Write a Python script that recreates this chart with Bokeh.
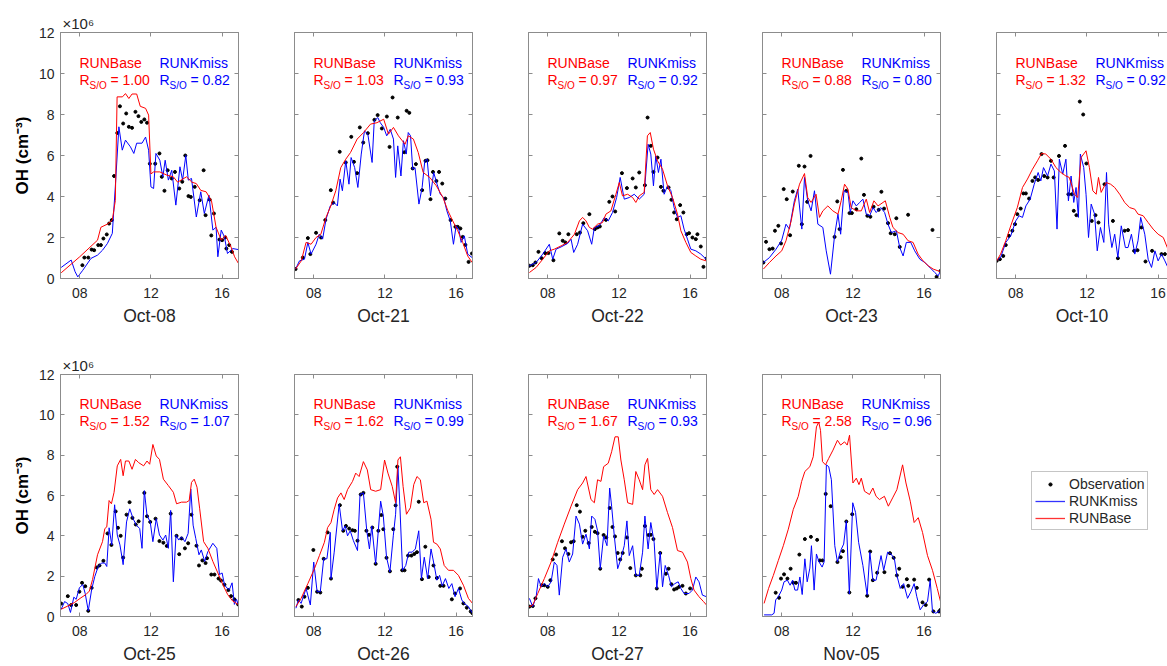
from bokeh.plotting import figure
from bokeh.models import FixedTicker, LinearAxis, Range1d, Legend, LegendItem, Label
from bokeh.layouts import row, column
from bokeh.embed import file_html
from bokeh.resources import INLINE

# ---------------- data (OH in units of 1e6 cm^-3, time in local hours) ----------------
DATES = ["Oct-08", "Oct-21", "Oct-22", "Oct-23", "Oct-10", "Oct-25", "Oct-26", "Oct-27", "Nov-05"]
R_BASE = ["1.00", "1.03", "0.97", "0.88", "1.32", "1.52", "1.62", "1.67", "2.58"]
R_KMISS = ["0.82", "0.93", "0.92", "0.80", "0.92", "1.07", "0.99", "0.93", "0.96"]
X_TICKS = [8, 12, 16]
X_TICK_LABELS = ["08", "12", "16"]
Y_TICKS = [0, 2, 4, 6, 8, 10, 12]
LEGEND_LABELS = ["Observation", "RUNKmiss", "RUNBase"]

OCT08_OBS = [(8.15,0.65),(8.26,1.02),(8.48,1.02),(8.67,1.41),(8.81,1.38),(9.04,1.63),(9.19,1.63),(9.33,1.95),(9.52,2.15),(9.65,2.68),(9.8,2.85),(9.93,5.0),(10.11,7.1),(10.26,8.4),(10.44,7.56),(10.61,8.05),(10.76,7.4),(10.94,7.35),(11.13,8.13),(11.3,7.92),(11.46,7.64),(11.63,7.76),(11.78,7.6),(11.94,5.6),(12.24,5.6),(12.48,6.1),(12.61,4.96),(12.76,4.28),(12.94,5.28),(13.17,4.88),(13.35,5.2),(13.59,4.39),(13.76,4.72),(13.93,6.0),(14.11,4.02),(14.24,3.98),(14.46,4.47),(14.74,3.82),(14.96,5.28),(15.07,3.09),(15.3,3.85),(15.39,2.1),(15.54,3.17),(15.85,1.9),(16.0,1.87),(16.17,2.0),(16.24,1.46),(16.4,1.63),(16.55,1.3)]
OCT08_KMISS = [(6.96,0.54),(7.52,0.9),(7.74,0.33),(7.89,0.08),(8.17,0.4),(8.63,0.98),(9.0,1.14),(9.28,1.38),(9.55,1.7),(9.83,2.2),(10.0,4.47),(10.2,7.4),(10.39,6.26),(10.57,6.75),(10.85,6.42),(11.04,6.1),(11.2,6.6),(11.5,6.6),(11.7,6.9),(11.87,6.26),(12.0,4.47),(12.15,4.39),(12.28,6.1),(12.5,5.77),(12.67,4.96),(12.8,5.77),(12.98,4.8),(13.17,5.28),(13.4,3.58),(13.63,5.45),(13.78,4.8),(13.96,6.0),(14.1,4.8),(14.28,4.88),(14.55,3.0),(14.8,4.23),(15.0,3.17),(15.26,4.07),(15.48,2.36),(15.66,2.5),(15.76,1.06),(15.95,2.36),(16.13,2.03),(16.3,1.22),(16.6,1.46),(16.92,1.41)]
OCT08_BASE = [(6.96,0.28),(8.0,1.06),(9.0,1.87),(9.19,2.5),(9.55,2.65),(9.83,2.85),(10.0,3.8),(10.1,8.86),(10.4,8.86),(10.57,9.02),(10.76,8.78),(10.94,9.0),(11.2,9.0),(11.4,8.4),(11.7,8.3),(11.87,7.97),(12.0,5.1),(12.15,5.2),(12.5,5.2),(12.9,5.04),(13.26,4.96),(13.5,4.7),(14.0,4.96),(14.3,4.7),(14.55,4.63),(14.8,4.3),(15.1,4.23),(15.4,3.8),(15.66,2.5),(15.95,1.87),(16.2,2.1),(16.5,1.54),(16.7,1.06),(16.92,0.73)]

OCT21_OBS = [(6.98,0.46),(7.39,1.02),(7.67,1.97),(7.81,1.19),(8.13,2.23),(8.41,2.0),(8.65,2.85),(8.96,4.31),(9.09,3.7),(9.46,6.18),(9.8,5.66),(10.11,6.91),(10.26,5.69),(10.44,5.14),(10.59,7.37),(10.78,6.63),(11.04,7.09),(11.41,7.74),(11.59,7.97),(11.83,7.32),(12.11,7.9),(12.26,6.42),(12.43,8.83),(12.72,7.85),(13.09,6.16),(13.22,8.18),(13.37,8.08),(13.56,5.37),(13.74,5.58),(14.09,4.31),(14.28,5.74),(14.39,5.77),(14.56,3.87),(14.7,5.2),(14.89,4.76),(15.04,5.2),(15.22,4.63),(15.39,3.9),(15.69,2.85),(15.96,2.52),(16.09,2.52),(16.24,2.44),(16.37,2.03),(16.52,1.64),(16.7,0.81),(16.89,1.22)]
OCT21_KMISS = [(6.98,0.46),(7.2,0.86),(7.48,0.94),(7.67,1.76),(7.85,1.19),(8.13,1.67),(8.31,2.16),(8.5,1.92),(8.69,2.89),(8.93,3.54),(9.15,3.7),(9.33,3.54),(9.48,4.85),(9.61,4.28),(9.8,5.74),(9.98,4.6),(10.1,5.9),(10.3,5.41),(10.48,4.44),(10.67,6.07),(10.85,7.2),(11.04,7.04),(11.28,5.66),(11.4,7.69),(11.6,7.85),(11.74,7.6),(11.93,7.37),(12.1,6.96),(12.3,7.28),(12.48,6.8),(12.6,4.93),(12.72,6.47),(12.9,5.0),(13.04,6.72),(13.2,6.07),(13.31,7.12),(13.44,6.96),(13.56,5.33),(13.69,5.41),(13.91,3.63),(14.09,4.44),(14.24,5.74),(14.37,5.82),(14.56,4.03),(14.74,5.17),(14.93,4.6),(15.11,4.11),(15.3,3.95),(15.48,3.3),(15.67,2.81),(15.85,1.67),(16.0,2.57),(16.15,2.41),(16.28,1.76),(16.46,2.08),(16.65,1.19),(16.9,1.02)]
OCT21_BASE = [(6.98,0.46),(7.3,0.86),(7.57,1.76),(7.85,1.67),(8.13,2.0),(8.4,2.16),(8.69,2.98),(8.96,3.54),(9.24,4.28),(9.52,5.41),(9.8,5.82),(10.07,6.15),(10.44,6.8),(10.8,7.12),(11.19,7.53),(11.55,7.6),(11.93,7.77),(12.2,7.04),(12.48,7.37),(12.76,6.96),(13.13,6.55),(13.31,6.96),(13.6,6.8),(13.87,6.15),(14.15,5.17),(14.52,4.93),(14.89,4.52),(15.26,3.95),(15.54,3.3),(15.81,2.81),(16.09,2.33),(16.37,1.76),(16.65,1.1),(16.9,0.78)]

OCT22_OBS = [(6.97,0.62),(7.16,0.65),(7.31,0.78),(7.48,1.3),(7.66,0.99),(7.85,1.24),(8.04,1.24),(8.32,0.89),(8.65,2.2),(8.84,1.84),(8.99,1.76),(9.16,2.16),(9.63,2.16),(9.81,2.24),(10.0,2.7),(10.34,3.14),(10.65,2.41),(10.8,2.49),(10.93,2.54),(11.27,2.86),(11.46,3.74),(11.64,4.0),(11.79,3.27),(12.17,5.14),(12.45,4.41),(12.77,4.88),(12.95,4.44),(13.14,5.17),(13.46,4.55),(13.61,7.85),(13.79,6.47),(13.94,5.2),(14.17,5.9),(14.36,4.47),(14.5,4.28),(14.79,4.44),(14.95,3.84),(15.1,3.22),(15.25,2.89),(15.44,3.58),(15.62,3.22),(15.81,2.16),(15.94,2.21),(16.13,2.0),(16.32,1.92),(16.41,2.16),(16.6,1.56),(16.75,0.57),(16.93,0.98)]
OCT22_KMISS = [(6.97,0.62),(7.35,0.78),(7.72,1.19),(8.09,1.67),(8.28,0.94),(8.47,1.43),(8.75,1.54),(9.12,1.71),(9.31,1.92),(9.46,1.27),(9.68,1.67),(9.96,2.65),(10.24,2.33),(10.47,1.67),(10.62,2.49),(10.9,2.57),(11.18,2.98),(11.4,2.81),(11.64,3.22),(11.87,3.95),(12.07,4.93),(12.3,3.87),(12.58,3.95),(12.86,4.11),(13.14,3.87),(13.42,4.11),(13.64,6.55),(13.79,6.07),(13.94,4.52),(14.07,5.98),(14.22,5.17),(14.36,5.82),(14.54,4.11),(14.73,4.52),(14.92,4.28),(15.1,3.46),(15.29,2.98),(15.48,3.06),(15.66,2.41),(15.85,1.92),(16.04,1.43),(16.32,1.35),(16.6,1.19),(16.9,0.94)]
OCT22_BASE = [(6.97,0.29),(7.35,0.54),(7.72,0.94),(8.09,1.35),(8.37,1.43),(8.75,1.59),(9.12,1.76),(9.5,2.16),(9.78,2.81),(9.96,2.98),(10.15,2.81),(10.34,2.49),(10.52,2.41),(10.8,2.65),(11.08,2.73),(11.27,3.14),(11.55,3.3),(11.83,4.11),(12.02,4.68),(12.2,4.03),(12.49,4.11),(12.77,3.95),(12.95,3.71),(13.14,4.03),(13.42,4.2),(13.6,6.96),(13.76,7.12),(13.94,6.31),(14.17,5.74),(14.45,5.33),(14.73,4.52),(15.01,3.95),(15.29,3.14),(15.48,2.33),(15.76,1.76),(16.04,1.27),(16.32,1.1),(16.6,0.94),(16.9,0.86)]

OCT23_OBS = [(6.97,0.78),(7.12,1.79),(7.31,1.43),(7.49,1.46),(7.62,2.33),(7.81,2.57),(7.96,1.71),(8.11,4.36),(8.28,3.87),(8.47,2.11),(8.62,4.24),(8.96,5.5),(9.13,2.65),(9.28,5.46),(9.43,3.74),(9.62,5.98),(10.97,2.03),(11.12,3.76),(11.25,2.41),(11.44,5.3),(11.63,4.28),(11.81,3.19),(11.94,3.19),(12.19,3.38),(12.47,5.85),(12.62,4.08),(12.81,3.06),(12.98,3.01),(13.16,3.5),(13.45,3.35),(13.6,4.23),(13.75,3.41),(13.97,2.7),(14.12,2.21),(14.35,2.16),(14.44,2.94),(14.63,1.54),(15.1,3.11),(16.47,2.37),(16.7,0.08),(16.92,0.37)]
OCT23_KMISS = [(6.97,0.78),(7.31,1.02),(7.68,1.43),(8.0,1.87),(8.24,2.65),(8.43,2.41),(8.71,3.79),(8.9,4.36),(9.13,2.41),(9.28,4.93),(9.46,3.79),(9.65,3.3),(9.84,4.28),(10.03,2.65),(10.31,2.49),(10.5,1.35),(10.74,0.21),(10.97,2.1),(11.16,3.14),(11.31,2.16),(11.5,4.28),(11.72,4.2),(11.85,3.22),(12.0,3.79),(12.19,3.54),(12.38,3.71),(12.56,3.87),(12.75,3.14),(12.94,3.06),(13.13,3.46),(13.31,3.22),(13.56,3.46),(13.78,3.22),(13.97,2.65),(14.16,2.24),(14.44,2.33),(14.63,1.51),(14.82,1.1),(15.0,1.76),(15.25,1.76),(15.47,1.35),(15.76,0.94),(16.04,0.78),(16.32,0.54),(16.6,0.29),(16.79,0.13),(16.92,0.37)]
OCT23_BASE = [(6.97,0.46),(7.31,0.78),(7.68,1.1),(8.0,1.35),(8.24,1.84),(8.53,2.81),(8.71,3.63),(9.0,4.6),(9.28,5.12),(9.46,3.95),(9.65,3.71),(9.93,4.11),(10.12,2.98),(10.31,3.3),(10.59,3.54),(10.87,3.3),(11.16,3.14),(11.34,3.79),(11.53,4.6),(11.72,4.36),(11.9,3.46),(12.19,3.3),(12.47,3.3),(12.75,3.87),(12.94,3.22),(13.18,3.79),(13.41,3.54),(13.69,3.71),(13.82,3.79),(14.07,2.98),(14.25,2.49),(14.54,2.24),(14.82,2.16),(15.1,1.84),(15.38,1.76),(15.66,1.19),(15.94,0.86),(16.23,0.62),(16.51,0.46),(16.79,0.37),(16.92,0.34)]

OCT10_OBS = [(6.93,0.86),(7.11,0.94),(7.3,1.1),(7.44,1.63),(7.62,2.08),(7.81,2.33),(7.96,2.65),(8.09,3.14),(8.28,3.41),(8.43,4.15),(8.57,4.15),(8.75,3.9),(8.94,4.76),(9.09,4.93),(9.26,4.81),(9.45,6.07),(9.6,5.0),(9.79,4.93),(9.98,5.74),(10.13,4.93),(10.43,5.98),(10.77,6.47),(10.96,4.11),(11.15,4.11),(11.26,3.3),(11.41,3.09),(11.6,8.63),(11.79,8.0),(11.97,5.61),(12.27,2.81),(12.48,3.09),(12.65,2.73),(12.99,4.6),(13.46,2.81),(13.74,0.99),(14.12,2.33),(14.31,2.36),(14.65,1.35),(14.84,1.38),(15.06,2.49),(15.29,0.83),(15.66,1.35),(16.19,1.19),(16.38,1.19)]
OCT10_KMISS = [(6.93,0.89),(7.15,1.02),(7.44,1.76),(7.72,2.08),(8.0,2.81),(8.19,3.06),(8.38,2.98),(8.57,3.54),(8.81,3.87),(9.04,4.6),(9.26,5.17),(9.41,4.76),(9.56,5.41),(9.79,5.0),(9.98,5.58),(10.17,5.25),(10.32,2.41),(10.45,5.82),(10.64,5.09),(10.82,5.82),(10.96,3.79),(11.11,5.0),(11.26,3.71),(11.39,4.44),(11.52,2.98),(11.63,6.07),(11.82,5.41),(11.95,4.11),(12.09,2.0),(12.24,3.63),(12.43,3.14),(12.58,1.35),(12.76,2.49),(12.95,1.76),(13.1,5.17),(13.22,2.65),(13.4,1.51),(13.56,2.16),(13.74,1.02),(13.93,2.57),(14.16,1.51),(14.31,1.51),(14.5,2.16),(14.69,1.19),(14.87,1.84),(15.02,2.98),(15.25,2.16),(15.44,0.94),(15.63,0.54),(15.82,1.35),(16.0,0.86),(16.19,1.19),(16.38,0.86),(16.59,0.46),(16.75,0.8),(16.92,0.5)]
OCT10_BASE = [(6.93,0.86),(7.15,1.19),(7.44,1.84),(7.72,2.57),(8.09,3.46),(8.38,4.44),(8.66,4.85),(8.94,5.33),(9.22,5.74),(9.45,6.1),(9.69,6.07),(9.98,5.82),(10.26,5.41),(10.54,5.17),(10.82,5.0),(11.01,4.93),(11.3,4.11),(11.48,3.95),(11.67,5.9),(11.95,6.23),(12.14,5.41),(12.33,4.28),(12.52,4.11),(12.65,4.93),(12.8,4.2),(13.08,4.68),(13.33,4.6),(13.56,4.44),(13.84,4.11),(14.12,3.71),(14.4,3.46),(14.69,3.38),(14.87,3.14),(15.16,3.06),(15.44,2.73),(15.72,2.41),(16.0,2.16),(16.29,2.0),(16.59,1.35),(16.75,1.0),(16.92,0.8)]

OCT25_OBS = [(6.96,0.64),(7.33,1.01),(7.52,0.57),(7.8,0.57),(7.98,1.23),(8.13,1.67),(8.31,1.5),(8.48,0.28),(8.67,1.42),(8.96,2.43),(9.11,2.53),(9.33,2.76),(9.56,4.12),(9.78,3.55),(10.02,5.21),(10.15,4.4),(10.3,4.0),(10.44,2.92),(10.63,5.05),(10.8,5.67),(10.96,4.89),(11.15,4.56),(11.31,4.72),(11.63,6.13),(11.78,4.97),(11.96,4.69),(12.26,4.85),(12.48,3.74),(12.7,3.66),(12.89,3.5),(13.11,5.1),(13.44,4.0),(13.59,3.09),(13.72,3.87),(13.91,3.38),(14.09,3.63),(14.28,5.05),(14.56,3.51),(14.7,2.53),(14.89,2.78),(15.07,2.65),(15.15,2.89),(15.39,2.08),(15.57,2.08),(15.8,1.88),(15.94,1.78),(16.13,1.58),(16.35,1.31),(16.5,1.01),(16.69,0.85),(16.9,0.6)]
OCT25_KMISS = [(6.96,0.36),(7.15,0.74),(7.33,0.64),(7.48,0.2),(7.67,0.96),(7.8,0.85),(7.98,1.42),(8.17,1.59),(8.31,1.13),(8.48,0.28),(8.67,1.34),(8.85,1.99),(9.04,2.48),(9.22,2.65),(9.41,2.65),(9.52,2.48),(9.65,4.4),(9.8,3.55),(9.96,5.54),(10.11,4.04),(10.26,3.55),(10.44,2.57),(10.63,4.69),(10.81,5.34),(11.0,4.85),(11.18,4.53),(11.37,4.36),(11.5,3.38),(11.63,6.24),(11.78,5.02),(11.96,4.69),(12.11,3.71),(12.3,4.85),(12.48,4.04),(12.67,3.79),(12.83,4.04),(12.98,3.38),(13.11,5.26),(13.26,1.72),(13.41,4.04),(13.56,3.79),(13.72,3.95),(13.91,3.71),(14.09,4.12),(14.24,6.32),(14.37,4.53),(14.52,3.87),(14.7,3.06),(14.83,3.3),(15.02,2.73),(15.2,3.22),(15.48,3.63),(15.7,3.38),(15.85,2.08),(16.0,2.16),(16.13,1.58),(16.26,1.42),(16.41,1.34),(16.56,1.67),(16.69,0.6),(16.81,0.85),(16.9,0.6)]
OCT25_BASE = [(6.96,0.36),(7.33,0.52),(7.7,0.69),(8.07,0.93),(8.35,1.09),(8.54,1.26),(8.72,1.83),(9.0,3.06),(9.28,3.71),(9.41,4.36),(9.52,4.44),(9.65,5.75),(9.78,5.59),(9.93,6.16),(10.11,7.47),(10.3,7.79),(10.44,6.98),(10.57,7.71),(10.76,7.71),(10.94,7.3),(11.13,7.79),(11.31,7.63),(11.59,7.47),(11.78,7.71),(11.93,7.55),(12.11,8.53),(12.3,7.96),(12.48,7.79),(12.7,6.81),(12.98,6.49),(13.26,6.16),(13.44,5.59),(13.72,5.67),(14.0,5.67),(14.15,5.75),(14.28,6.65),(14.43,6.81),(14.59,6.41),(14.74,5.34),(14.96,3.71),(15.2,3.38),(15.48,2.73),(15.76,2.16),(16.04,1.58),(16.31,1.09),(16.59,0.77),(16.9,0.6)]

OCT26_OBS = [(7.14,0.82),(7.33,0.49),(7.48,0.98),(7.67,1.42),(7.98,3.3),(8.19,1.23),(8.37,1.19),(8.56,2.86),(8.78,4.17),(8.97,1.88),(9.47,5.52),(9.66,4.25),(9.81,4.49),(9.99,4.36),(10.18,4.28),(10.31,4.25),(10.46,3.76),(10.64,6.05),(10.79,6.13),(10.96,4.25),(11.11,4.05),(11.29,4.41),(11.48,2.61),(11.63,4.25),(11.8,5.03),(11.91,4.33),(12.09,2.91),(12.28,2.24),(12.47,4.33),(12.6,5.51),(12.69,7.43),(12.97,2.29),(13.1,2.29),(13.3,3.02),(13.49,3.02),(13.65,3.1),(13.8,3.19),(13.9,5.69),(14.08,1.85),(14.27,3.46),(14.46,1.96),(14.73,2.53),(14.92,1.91),(15.11,1.52),(15.29,1.52),(15.76,0.85),(15.94,1.14),(16.22,1.39),(16.41,0.65),(16.6,0.44),(16.82,0.25),(16.92,0.16)]
OCT26_KMISS = [(7.0,0.41),(7.14,0.82),(7.29,0.65),(7.57,1.39),(7.81,0.57),(8.0,2.7),(8.19,1.23),(8.37,1.23),(8.56,2.86),(8.74,2.86),(8.93,4.17),(8.97,1.88),(9.15,3.19),(9.43,5.56),(9.62,4.25),(9.77,4.49),(9.9,4.0),(10.05,4.25),(10.23,3.76),(10.46,3.27),(10.6,6.05),(10.79,6.13),(10.98,4.25),(11.13,3.35),(11.26,4.49),(11.48,2.61),(11.76,5.72),(11.91,4.98),(12.09,2.94),(12.28,2.21),(12.47,4.0),(12.6,5.07),(12.73,7.43),(12.84,5.47),(12.99,2.29),(13.17,2.53),(13.34,3.19),(13.53,3.19),(13.71,3.35),(13.9,4.25),(14.05,1.88),(14.21,2.94),(14.4,1.88),(14.59,3.35),(14.77,2.53),(14.92,1.8),(15.07,2.04),(15.22,1.52),(15.4,1.88),(15.59,1.39),(15.76,1.63),(15.94,0.98),(16.13,1.39),(16.32,0.82),(16.45,0.65),(16.69,0.49),(16.92,0.16)]
OCT26_BASE = [(7.0,0.49),(7.29,0.9),(7.67,1.63),(8.04,2.37),(8.32,3.02),(8.6,3.68),(8.78,4.41),(8.97,4.66),(9.15,5.31),(9.34,5.88),(9.53,6.13),(9.71,5.8),(9.9,6.29),(10.18,6.7),(10.36,7.11),(10.55,6.94),(10.79,7.68),(11.01,7.27),(11.2,6.29),(11.48,6.21),(11.76,6.29),(11.98,7.76),(12.17,7.11),(12.41,6.45),(12.6,5.64),(12.73,7.76),(12.87,7.92),(13.02,6.45),(13.21,5.07),(13.43,5.39),(13.62,6.54),(13.8,6.94),(13.99,6.78),(14.18,5.64),(14.36,5.72),(14.59,4.82),(14.73,3.68),(14.92,3.59),(15.11,3.35),(15.33,2.53),(15.57,2.29),(15.85,2.29),(16.13,2.04),(16.41,1.55),(16.69,0.9),(16.92,0.65)]

OCT27_OBS = [(6.97,0.49),(7.16,0.52),(7.31,0.9),(7.66,1.55),(7.81,1.55),(8.0,1.47),(8.15,1.8),(8.28,2.83),(8.47,3.07),(8.8,3.73),(8.97,3.38),(9.16,3.1),(9.31,3.68),(9.46,3.73),(9.63,5.52),(9.81,5.2),(9.96,3.95),(10.11,4.25),(10.3,3.64),(10.47,4.44),(10.65,4.2),(10.8,4.13),(10.95,2.37),(11.14,4.04),(11.29,3.92),(11.48,5.38),(11.64,4.44),(11.78,3.97),(11.93,3.15),(12.07,2.83),(12.21,3.15),(12.45,3.92),(12.64,2.4),(12.95,2.04),(13.2,2.04),(13.29,2.37),(13.46,4.49),(13.66,4.04),(13.79,4.05),(13.94,3.84),(14.13,1.39),(14.32,3.15),(14.64,2.12),(14.79,2.37),(14.95,1.6),(15.1,1.34),(15.25,1.39),(15.38,1.47),(15.57,1.52),(15.76,1.14),(16.0,1.39)]
OCT27_KMISS = [(6.97,0.9),(7.16,0.49),(7.35,0.98),(7.48,1.88),(7.63,1.47),(7.81,1.63),(8.0,1.47),(8.19,1.72),(8.37,2.7),(8.52,2.53),(8.65,1.06),(8.84,2.94),(9.03,3.35),(9.21,2.7),(9.4,3.1),(9.59,4.98),(9.78,4.58),(9.96,3.59),(10.15,4.08),(10.34,3.35),(10.47,4.98),(10.65,4.82),(10.8,4.25),(10.95,2.37),(11.14,4.0),(11.33,3.51),(11.48,6.37),(11.59,5.47),(11.74,4.0),(11.93,2.37),(12.11,2.86),(12.3,3.51),(12.45,4.74),(12.58,3.02),(12.77,3.51),(12.95,2.04),(13.14,2.04),(13.33,3.19),(13.46,4.98),(13.64,3.35),(13.79,4.66),(13.98,3.68),(14.13,1.39),(14.32,3.19),(14.45,1.47),(14.6,2.53),(14.79,2.04),(14.95,1.47),(15.14,1.63),(15.33,1.72),(15.48,1.39),(15.66,1.14),(15.94,1.14),(16.13,1.31),(16.32,1.96),(16.5,1.72),(16.69,1.06),(16.92,0.98)]
OCT27_BASE = [(6.97,0.49),(7.16,0.57),(7.44,1.14),(7.81,1.88),(8.19,2.7),(8.56,3.68),(8.93,4.58),(9.31,5.47),(9.68,6.29),(9.96,6.62),(10.15,6.94),(10.43,5.8),(10.62,5.64),(10.8,6.78),(10.99,6.7),(11.14,7.43),(11.4,7.6),(11.59,8.17),(11.78,8.91),(11.96,8.91),(12.11,7.76),(12.3,6.78),(12.49,5.64),(12.77,5.56),(12.95,7.19),(13.14,6.78),(13.33,6.29),(13.46,7.52),(13.61,7.84),(13.79,6.29),(13.98,6.05),(14.17,6.29),(14.45,5.96),(14.73,5.15),(15.01,4.41),(15.29,3.27),(15.57,3.19),(15.85,2.7),(16.04,1.88),(16.22,1.31),(16.5,0.98),(16.75,0.74),(16.92,0.57)]

NOV05_OBS = [(7.66,1.18),(7.85,0.93),(7.96,1.88),(8.13,2.09),(8.32,1.88),(8.5,2.37),(8.65,1.67),(8.8,1.67),(8.99,3.07),(9.3,3.84),(9.64,3.95),(9.99,3.8),(10.14,2.78),(10.29,2.78),(10.47,6.08),(10.75,5.47),(11.13,2.7),(11.31,2.94),(11.44,3.24),(11.63,4.71),(11.8,1.19),(11.96,5.07),(12.8,1.03),(12.97,3.22),(13.12,1.8),(13.36,2.17),(13.77,2.2),(14.08,3.14),(14.29,2.91),(14.47,2.04),(14.6,2.37),(14.79,1.47),(15.03,1.85),(15.11,1.52),(15.44,1.83),(15.59,1.42),(15.91,0.7),(16.09,0.57),(16.28,1.83),(16.52,0.25),(16.84,0.25),(16.92,0.33)]
NOV05_KMISS = [(7.01,0.08),(7.44,0.08),(7.57,0.16),(7.66,0.82),(7.81,0.98),(8.0,1.31),(8.13,1.72),(8.32,1.8),(8.47,1.55),(8.61,1.8),(8.74,1.31),(8.89,1.31),(9.02,1.96),(9.15,1.09),(9.3,2.86),(9.43,1.72),(9.58,2.4),(9.67,3.51),(9.82,1.31),(9.95,3.1),(10.1,2.7),(10.27,2.45),(10.38,2.7),(10.51,7.52),(10.64,7.43),(10.79,6.78),(10.98,3.51),(11.13,2.7),(11.31,3.27),(11.48,3.59),(11.63,4.74),(11.8,1.12),(11.99,5.64),(12.15,5.15),(12.32,3.68),(12.56,2.53),(12.8,1.06),(12.95,3.19),(13.12,1.8),(13.3,1.8),(13.58,3.02),(13.73,2.29),(13.95,3.19),(14.14,3.1),(14.33,2.86),(14.47,2.04),(14.66,1.39),(14.85,1.63),(15.07,0.9),(15.26,1.23),(15.44,1.63),(15.59,0.98),(15.78,0.33),(15.96,0.57),(16.19,0.74),(16.34,1.8),(16.47,0.25),(16.65,0.16),(16.84,0.25),(16.92,0.33)]
NOV05_BASE = [(7.01,0.65),(7.26,1.39),(7.53,2.04),(7.81,2.78),(8.09,3.51),(8.37,4.33),(8.65,5.31),(8.93,5.96),(9.12,6.7),(9.3,7.19),(9.58,7.43),(9.77,7.92),(9.95,9.4),(10.08,9.64),(10.18,9.23),(10.29,7.68),(10.46,7.52),(10.64,7.84),(10.88,8.25),(11.13,8.74),(11.31,8.5),(11.53,8.66),(11.68,8.5),(11.81,8.99),(12.0,6.62),(12.19,6.86),(12.34,6.54),(12.47,6.86),(12.65,6.21),(12.93,6.05),(13.12,6.37),(13.3,5.96),(13.49,5.8),(13.77,5.96),(13.99,5.47),(14.23,5.88),(14.47,6.29),(14.79,7.52),(14.98,6.62),(15.22,5.72),(15.44,4.66),(15.67,4.9),(15.91,4.17),(16.19,3.02),(16.47,2.29),(16.74,1.39),(16.92,0.74)]

OBS_SERIES = [OCT08_OBS, OCT21_OBS, OCT22_OBS, OCT23_OBS, OCT10_OBS, OCT25_OBS, OCT26_OBS, OCT27_OBS, NOV05_OBS]
KMISS_SERIES = [OCT08_KMISS, OCT21_KMISS, OCT22_KMISS, OCT23_KMISS, OCT10_KMISS, OCT25_KMISS, OCT26_KMISS, OCT27_KMISS, NOV05_KMISS]
BASE_SERIES = [OCT08_BASE, OCT21_BASE, OCT22_BASE, OCT23_BASE, OCT10_BASE, OCT25_BASE, OCT26_BASE, OCT27_BASE, NOV05_BASE]

# ---------------- styling / geometry ----------------
FONT = "Liberation Sans"
RED = "#ff0000"
BLUE = "#0000ff"
TXT = "#262626"
EDGE = "#8c8c8c"
FRAME_W = 178
FRAME_H = 246
XMIN = 6.92
PXH = FRAME_W / 10.0          # px per hour
PXV = FRAME_H / 12.0          # px per 1e6
NAN = float("nan")


def unzip(seq):
    return [a for a, _ in seq], [b for _, b in seq]


def style_axis(ax, ticks, labels):
    ax.ticker = FixedTicker(ticks=ticks)
    ax.major_label_overrides = {t: l for t, l in zip(ticks, labels)}
    ax.major_tick_in = 4
    ax.major_tick_out = 0
    ax.minor_tick_line_color = None
    ax.axis_line_color = EDGE
    ax.major_tick_line_color = EDGE
    ax.major_label_text_font = FONT
    ax.major_label_text_font_size = "14px"
    ax.major_label_text_color = TXT
    ax.axis_label_text_font = FONT
    ax.axis_label_text_color = TXT


def make_panel(i, col, rowi):
    last = col == 4
    left = 60 if col == 0 else 28
    right = 0 if last else 28
    fw = 171 if last else FRAME_W
    top = 32
    bottom = 64 if rowi == 0 else 46
    xmax = XMIN + fw / PXH
    p = figure(width=left + fw + right, height=top + FRAME_H + bottom,
               x_range=Range1d(XMIN, xmax), y_range=Range1d(0, 12),
               output_backend="svg", toolbar_location=None, tools="",
               min_border_left=left, min_border_right=right,
               min_border_top=top, min_border_bottom=bottom,
               title="×10⁶" if col == 0 else None)
    p.grid.visible = False
    p.outline_line_color = None if last else EDGE
    p.background_fill_color = "white"
    p.border_fill_color = "white"
    if col == 0:
        p.title.text_font = FONT
        p.title.text_font_size = "15px"
        p.title.text_font_style = "normal"
        p.title.text_color = TXT
        p.title.align = "left"
        p.title.offset = 2
        p.title.standoff = 2

    xa = p.xaxis[0]
    style_axis(xa, X_TICKS, X_TICK_LABELS)
    xa.major_label_standoff = 9
    xa.axis_label = DATES[i]
    xa.axis_label_text_font_size = "17.5px"
    xa.axis_label_text_font_style = "normal"
    xa.axis_label_standoff = 5

    ya = p.yaxis[0]
    if col == 0:
        style_axis(ya, Y_TICKS, [str(t) for t in Y_TICKS])
        ya.major_label_standoff = 6
        ya.axis_label = "OH (cm⁻³)"
        ya.axis_label_text_font_size = "17px"
        ya.axis_label_text_font_style = "bold"
        ya.axis_label_text_color = "black"
        ya.axis_label_standoff = 4
    else:
        style_axis(ya, Y_TICKS, ["" for _ in Y_TICKS])
        ya.major_label_standoff = 0

    top_ax = LinearAxis()
    style_axis(top_ax, X_TICKS, ["" for _ in X_TICKS])
    top_ax.major_label_standoff = 0
    p.add_layout(top_ax, "above")
    if not last:
        r_ax = LinearAxis()
        style_axis(r_ax, Y_TICKS, ["" for _ in Y_TICKS])
        r_ax.major_label_standoff = 0
        p.add_layout(r_ax, "right")

    ot, ov = unzip(OBS_SERIES[i])
    kt, kv = unzip(KMISS_SERIES[i])
    bt, bv = unzip(BASE_SERIES[i])
    p.scatter(ot, ov, marker="circle", size=3, color="black")
    p.line(kt, kv, color=BLUE, line_width=1)
    p.line(bt, bv, color=RED, line_width=1)

    x_red = XMIN + 19 / PXH
    x_blue = XMIN + 99 / PXH
    y_name = 12 - 30 / PXV
    y_r = 12 - 47 / PXV
    y_sub = 12 - 53 / PXV
    for x0, colr, name, rv in [(x_red, RED, "RUNBase", R_BASE[i]), (x_blue, BLUE, "RUNKmiss", R_KMISS[i])]:
        common = dict(text_color=colr, text_font=FONT, text_baseline="middle", text_align="left")
        p.add_layout(Label(x=x0, y=y_name, text=name, text_font_size="14px", **common))
        p.add_layout(Label(x=x0, y=y_r, text="R", text_font_size="14px", **common))
        p.add_layout(Label(x=x0 + 10.1 / PXH, y=y_sub, text="S/O", text_font_size="10px", **common))
        p.add_layout(Label(x=x0 + 31 / PXH, y=y_r, text="= " + rv, text_font_size="14px", **common))
    return p


row1 = [make_panel(i, i, 0) for i in range(5)]
row2 = [make_panel(5 + c, c, 1) for c in range(4)]

# legend panel (proxy renderers hold a single NaN so nothing is drawn in the frame)
lg = figure(width=199, height=32 + FRAME_H + 46, x_range=Range1d(0, 1), y_range=Range1d(0, 1),
            output_backend="svg", toolbar_location=None, tools="", min_border=0,
            x_axis_location=None, y_axis_location=None)
lg.grid.visible = False
lg.outline_line_color = None
r_km = lg.line(x=[NAN], y=[NAN], line_color=BLUE, line_width=1.3, line_alpha=0.8)
r_bs = lg.line(x=[NAN], y=[NAN], line_color=RED, line_width=1.3, line_alpha=0.8)
r_obs = lg.scatter(x=[NAN], y=[NAN], marker="circle", size=3, fill_color="black", line_color="black")
legend = Legend(items=[LegendItem(label=LEGEND_LABELS[0], renderers=[r_obs]),
                       LegendItem(label=LEGEND_LABELS[1], renderers=[r_km]),
                       LegendItem(label=LEGEND_LABELS[2], renderers=[r_bs])],
                location=(63, 86), label_text_font=FONT, label_text_font_size="14px",
                label_text_color=TXT, glyph_width=30, glyph_height=8, label_height=17,
                spacing=0, padding=3, margin=0, label_standoff=4,
                border_line_color=EDGE, background_fill_color="white")
lg.add_layout(legend)
row2.append(lg)

layout = column(row(*row1), row(*row2))
open("out.html", "w").write(file_html(layout, INLINE))
